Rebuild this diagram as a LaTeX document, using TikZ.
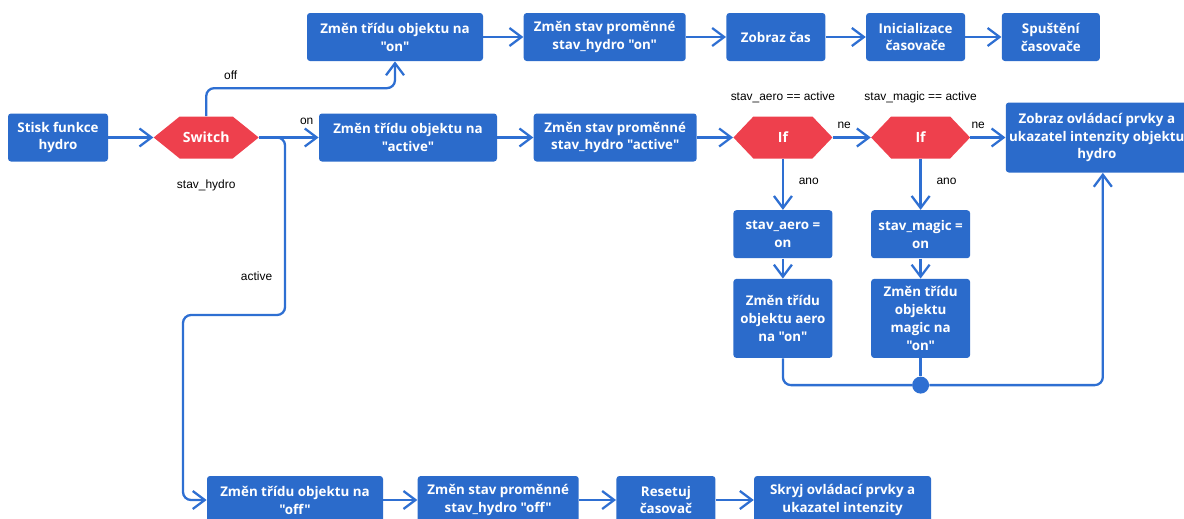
\documentclass[tikz,border=0pt]{standalone}
\usepackage{fontspec}
\usetikzlibrary{positioning,arrows.meta}
\newfontfamily\boxfont{Open Sans}
\newfontfamily\lblfont{Liberation Sans}
\definecolor{boxblue}{HTML}{2B6BCB}
\definecolor{linkblue}{HTML}{2E6FD2}
\definecolor{ifred}{HTML}{EE404D}

\begin{document}
\begin{tikzpicture}[node distance=0.8cm]
    \tikzstyle{stepbox} = [rectangle, fill=boxblue, text=white, font=\boxfont\bfseries\fontsize{7.6}{10.2}\selectfont, align=center, rounded corners=0.6mm, minimum height=0.96cm, inner sep=1pt]
    \tikzset{decision/.style={rectangle, text=white, font=\boxfont\bfseries\fontsize{8}{10}\selectfont, minimum width=1.98cm, minimum height=0.84cm,
        path picture={\fill[ifred] (path picture bounding box.west) -- ([xshift=#1]path picture bounding box.north west) -- ([xshift=-#1]path picture bounding box.north east) -- (path picture bounding box.east) -- ([xshift=-#1]path picture bounding box.south east) -- ([xshift=#1]path picture bounding box.south west) -- cycle;}}}
    \tikzstyle{arrow} = [line width=1.3pt, draw=linkblue, ->, >={Straight Barb[length=2.4mm,width=3.6mm]}]
    \tikzstyle{link} = [line width=1.3pt, draw=linkblue]
    \tikzstyle{lbl} = [font=\lblfont\fontsize{6.8}{8}\selectfont, text=black, inner sep=1pt]

    \useasboundingbox (0,0) rectangle (23.68,-10.36);

    % start and switch
    \node (press) [stepbox, minimum width=2cm] at (1.16,-2.75) {Stisk funkce\\hydro};
    \node (switch) [decision=0.52cm, minimum width=2.1cm, right=0.9cm of press] {Switch};
    \node (statelbl) [lbl, below=0.38cm of switch] {stav\_hydro};

    % off branch
    \node (onclass) [stepbox, minimum width=3.52cm] at (7.9,-0.74) {Změn třídu objektu na\\"on"};
    \node (onstate) [stepbox, minimum width=3.24cm, right=of onclass] {Změn stav proměnné\\stav\_hydro "on"};
    \node (showtime) [stepbox, minimum width=1.98cm, right=of onstate] {Zobraz čas};
    \node (inittimer) [stepbox, minimum width=1.98cm, right=of showtime] {Inicializace\\časovače};
    \node (runtimer) [stepbox, minimum width=1.96cm, right=0.72cm of inittimer] {Spuštění\\časovače};

    % on branch
    \node (activeclass) [stepbox, minimum width=3.56cm] at (8.16,-2.75) {Změn třídu objektu na\\"active"};
    \node (activestate) [stepbox, minimum width=3.26cm, right=0.72cm of activeclass] {Změn stav proměnné\\stav\_hydro "active"};
    \node (ifaero) [decision=0.4cm, right=0.72cm of activestate] {If};
    \node (ifmagic) [decision=0.4cm, right=0.76cm of ifaero] {If};
    \node (showctrl) [stepbox, minimum width=3.64cm, minimum height=1.4cm, right=0.7cm of ifmagic] {Zobraz ovládací prvky a\\ukazatel intenzity objektu\\hydro};
    \node (aerocond) [lbl, above=0.22cm of ifaero] {stav\_aero == active};
    \node (magiccond) [lbl, above=0.22cm of ifmagic] {stav\_magic == active};
    \node (aeroset) [stepbox, minimum width=1.98cm, below=1.02cm of ifaero] {stav\_aero =\\on};
    \node (aeroclass) [stepbox, minimum width=1.98cm, minimum height=1.58cm, below=0.4cm of aeroset] {Změn třídu\\objektu aero\\na "on"};
    \node (magicset) [stepbox, minimum width=1.98cm, below=1.02cm of ifmagic] {stav\_magic =\\on};
    \node (magicclass) [stepbox, minimum width=1.98cm, minimum height=1.58cm, below=0.4cm of magicset] {Změn třídu\\objektu\\magic na\\"on"};
    \node (join) [circle, fill=linkblue, inner sep=0pt, minimum size=0.34cm, below=0.36cm of magicclass] {};

    % active branch
    \node (offclass) [stepbox, minimum width=3.52cm] at (5.9,-10.0) {Změn třídu objektu na\\"off"};
    \node (offstate) [stepbox, minimum width=3.22cm, right=0.68cm of offclass] {Změn stav proměnné\\stav\_hydro "off"};
    \node (resettimer) [stepbox, minimum width=1.98cm, right=0.74cm of offstate] {Resetuj\\časovač};
    \node (hidectrl) [stepbox, minimum width=3.54cm, right=0.76cm of resettimer] {Skryj ovládací prvky a\\ukazatel intenzity};

    \draw [arrow] (press) -- (switch);
    \draw [arrow, rounded corners=1.6mm] (switch.north) -- ++(0,0.56) node (offlbl) [lbl, above right=0.12cm and 0.3cm] {off} -| (onclass.south);
    \draw [arrow] (switch) -- node (onlbl) [lbl, above=0.2cm, pos=0.8] {on} (activeclass);
    \draw [arrow, rounded corners=1.6mm] (switch.east) -- ++(0.52,0) |- node (activelbl) [lbl, left=0.2cm, pos=0.39] {active} (3.66,-6.3) |- (offclass.west);

    \draw [arrow] (onclass) -- (onstate);
    \draw [arrow] (onstate) -- (showtime);
    \draw [arrow] (showtime) -- (inittimer);
    \draw [arrow] (inittimer) -- (runtimer);

    \draw [arrow] (activeclass) -- (activestate);
    \draw [arrow] (activestate) -- (ifaero);
    \draw [arrow] (ifaero) -- node (nelbla) [lbl, above=0.12cm, pos=0.3] {ne} (ifmagic);
    \draw [arrow] (ifmagic) -- node (nelblb) [lbl, above=0.12cm, pos=0.22] {ne} (showctrl);
    \draw [arrow] (ifaero) -- node (anolbla) [lbl, right=0.26cm, pos=0.45] {ano} (aeroset);
    \draw [arrow] (ifmagic) -- node (anolblb) [lbl, right=0.26cm, pos=0.45] {ano} (magicset);
    \draw [arrow] (aeroset) -- (aeroclass);
    \draw [arrow] (magicset) -- (magicclass);
    \draw [link, rounded corners=1.6mm] (aeroclass.south) |- (join);
    \draw [link] (magicclass) -- (join);
    \draw [arrow, rounded corners=1.6mm] (join) -| ([xshift=0.12cm]showctrl.south);

    \draw [arrow] (offclass) -- (offstate);
    \draw [arrow] (offstate) -- (resettimer);
    \draw [arrow] (resettimer) -- (hidectrl);
\end{tikzpicture}
\end{document}
